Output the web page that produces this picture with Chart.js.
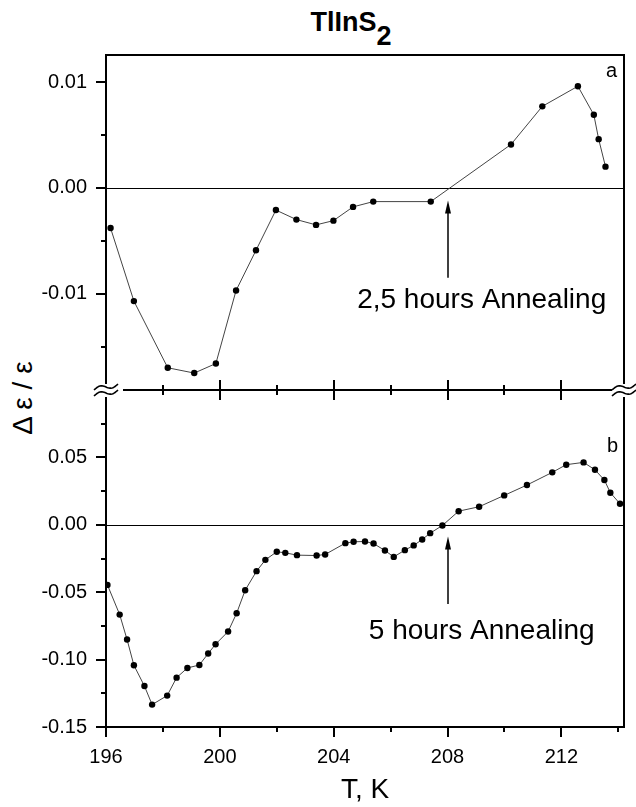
<!DOCTYPE html>
<html lang="en">
<head>
<meta charset="UTF-8">
<title>TlInS2 annealing</title>
<script src="https://cdn.jsdelivr.net/npm/chart.js@4.4.1/dist/chart.umd.min.js"></script>
<style>
  body { margin: 0; background: #fff; }
  #wrap { position: relative; width: 636px; height: 807px; font-family: 'Liberation Sans', Arial, sans-serif; color: #000; }
  canvas { position: absolute; left: 0; }
  #topChart { top: 0; }
  #botChart { top: 360px; }
  #title { position: absolute; left: 0; width: 702px; top: 9px; text-align: center; font-size: 27px; font-weight: bold; line-height: 27px; }
  #title span { position: relative; top: 14px; }
  #ylab { position: absolute; left: -77px; top: 384px; width: 200px; text-align: center; font-size: 28px; line-height: 28px; transform: rotate(-90deg); white-space: pre; }
</style>
</head>
<body>
<div id="wrap">
  <div id="title">TlInS<span>2</span></div>
  <div id="ylab">Δ ε / ε</div>
  <canvas id="topChart" width="636" height="420"></canvas>
  <canvas id="botChart" width="636" height="447"></canvas>
</div>
<script>
// temperature axis
const xTicks = [196, 198, 200, 202, 204, 206, 208, 210, 212, 214];
const xMajor = [196, 200, 204, 208, 212];

// panel a: 2,5 hours annealing
const topT = [196.16, 196.98, 198.17, 199.10, 199.86, 200.57, 201.27, 201.97, 202.69, 203.38,
              203.99, 204.68, 205.39, 207.41, 210.23, 211.33, 212.58, 213.14, 213.31, 213.55];
const topDe = [-0.0038, -0.0107, -0.0170, -0.0175, -0.0166, -0.0097, -0.0059, -0.0021, -0.0030, -0.0035,
               -0.0031, -0.0018, -0.0013, -0.0013, 0.0041, 0.0077, 0.0096, 0.0069, 0.0046, 0.0020];
const topYTicks = [-0.015, -0.01, -0.005, 0, 0.005, 0.01];
const topYMajor = [-0.01, 0, 0.01];

// panel b: 5 hours annealing
const botT = [196.05, 196.48, 196.74, 196.98, 197.35, 197.62, 198.15, 198.48, 198.86, 199.28,
              199.59, 199.85, 200.29, 200.59, 200.89, 201.29, 201.60, 202.00, 202.30, 202.71,
              203.40, 203.70, 204.41, 204.70, 205.10, 205.40, 205.80, 206.11, 206.50, 206.81,
              207.11, 207.39, 207.82, 208.39, 209.11, 209.99, 210.79, 211.68, 212.17, 212.78,
              213.18, 213.51, 213.72, 214.06];
const botDe = [-0.0446, -0.0666, -0.0851, -0.1042, -0.1196, -0.1334, -0.1267, -0.1134, -0.1062, -0.1040,
               -0.0955, -0.0886, -0.0792, -0.0656, -0.0485, -0.0344, -0.0260, -0.0200, -0.0208, -0.0225,
               -0.0228, -0.0220, -0.0136, -0.0126, -0.0124, -0.0139, -0.0191, -0.0238, -0.0188, -0.0153,
               -0.0109, -0.0062, -0.0005, 0.0101, 0.0134, 0.0218, 0.0295, 0.0389, 0.0446, 0.0463,
               0.0408, 0.0332, 0.0238, 0.0156];
const botYTicks = [-0.15, -0.125, -0.10, -0.075, -0.05, -0.025, 0, 0.025, 0.05, 0.075];
const botYMajor = [-0.15, -0.10, -0.05, 0, 0.05];

const FONT = "'Liberation Sans', Arial, sans-serif";
const isIn = (v, list) => list.some(m => Math.abs(m - v) < 1e-9);

function seg(ctx, x1, y1, x2, y2) {
  ctx.beginPath(); ctx.moveTo(x1, y1); ctx.lineTo(x2, y2); ctx.stroke();
}

// little "≈" that marks the broken axis
function breakMark(ctx, cx, cy) {
  ctx.save();
  ctx.lineWidth = 1.6;
  [-3, 3].forEach(off => {
    ctx.beginPath();
    for (let i = 0; i <= 24; i++) {
      const t = i / 24;
      const px = cx - 12 + 24 * t;
      const py = cy + off + 3 - 6 * t - 2.5 * Math.sin(2 * Math.PI * t);
      if (i === 0) ctx.moveTo(px, py); else ctx.lineTo(px, py);
    }
    ctx.stroke();
  });
  ctx.restore();
}

function arrowUp(ctx, x, yFrom, yTip) {
  ctx.lineWidth = 1.5;
  seg(ctx, x, yFrom, x, yTip + 10);
  ctx.beginPath();
  ctx.moveTo(x, yTip); ctx.lineTo(x - 3, yTip + 13); ctx.lineTo(x + 3, yTip + 13);
  ctx.closePath(); ctx.fill();
}

function panelPlugin(panel) {
  return {
    id: 'panel_' + panel,
    beforeDatasetsDraw(chart) {
      const {ctx, chartArea: a, scales: {y}} = chart;
      ctx.save();
      ctx.strokeStyle = '#000';
      ctx.lineWidth = 1;
      const y0 = Math.round(y.getPixelForValue(0)) + 0.5;
      seg(ctx, a.left, y0, a.right, y0);
      ctx.restore();
    },
    afterDraw(chart) {
      const {ctx, chartArea: a, scales: {x, y}} = chart;
      ctx.save();
      ctx.strokeStyle = '#000';
      ctx.fillStyle = '#000';
      ctx.lineWidth = 2;
      const yt = panel === 'a' ? topYTicks : botYTicks;
      const ym = panel === 'a' ? topYMajor : botYMajor;
      yt.forEach(v => {
        const py = Math.round(y.getPixelForValue(v));
        seg(ctx, a.left - (isIn(v, ym) ? 10 : 5), py, a.left, py);
      });
      if (panel === 'a') {
        seg(ctx, a.left - 1, a.top, a.right + 1, a.top);
        seg(ctx, a.left, a.top, a.left, a.bottom - 6);
        seg(ctx, a.right, a.top, a.right, a.bottom - 6);
        seg(ctx, a.left + 17, a.bottom, a.right - 12, a.bottom);
        xTicks.forEach(v => {
          const px = Math.round(x.getPixelForValue(v));
          if (px < a.left + 17 || px > a.right - 12) return;
          const len = isIn(v, xMajor) ? 10 : 5;
          seg(ctx, px, a.bottom - len, px, a.bottom + len);
        });
        breakMark(ctx, a.left, a.bottom);
        breakMark(ctx, a.right, a.bottom);
        arrowUp(ctx, Math.round(x.getPixelForValue(208)), y.getPixelForValue(-0.0085), y.getPixelForValue(-0.0012));
        ctx.font = '28px ' + FONT;
        ctx.textAlign = 'center';
        ctx.textBaseline = 'alphabetic';
        ctx.fillText('2,5 hours Annealing', x.getPixelForValue(209.2), y.getPixelForValue(-0.0114));
        ctx.font = '20px ' + FONT;
        ctx.textAlign = 'right';
        ctx.fillText('a', a.right - 7, a.top + 22);
      } else {
        seg(ctx, a.left, a.top + 7, a.left, a.bottom + 1);
        seg(ctx, a.right, a.top + 7, a.right, a.bottom + 1);
        seg(ctx, a.left - 1, a.bottom, a.right + 1, a.bottom);
        xTicks.forEach(v => {
          const px = Math.round(x.getPixelForValue(v));
          seg(ctx, px, a.bottom, px, a.bottom + (isIn(v, xMajor) ? 10 : 5));
        });
        arrowUp(ctx, Math.round(x.getPixelForValue(208)), y.getPixelForValue(-0.0587), y.getPixelForValue(-0.0087));
        ctx.font = '28px ' + FONT;
        ctx.textAlign = 'center';
        ctx.textBaseline = 'alphabetic';
        ctx.fillText('5 hours Annealing', x.getPixelForValue(209.2), y.getPixelForValue(-0.0847));
        ctx.font = '20px ' + FONT;
        ctx.textAlign = 'right';
        ctx.fillText('b', a.right - 6, a.top + 62);
      }
      ctx.restore();
    }
  };
}

// invisible tick marks keep the label gap without padding the plot area
const hiddenGrid = len => ({
  display: true, drawOnChartArea: false, drawTicks: true, tickLength: len,
  color: 'rgba(0,0,0,0)', tickColor: 'rgba(0,0,0,0)'
});

function makeChart(id, panel, T, De, yMin, yMax, yTicks, yMajor) {
  const bottom = panel === 'b';
  return new Chart(document.getElementById(id), {
    type: 'line',
    data: {
      datasets: [{
        data: T.map((t, i) => ({x: t, y: De[i]})),
        borderColor: '#444',
        borderWidth: 1,
        pointRadius: 3.2,
        pointBackgroundColor: '#000',
        pointBorderWidth: 0,
        tension: 0
      }]
    },
    options: {
      responsive: false,
      animation: false,
      layout: { padding: { top: bottom ? 30 : 55, right: 12, bottom: bottom ? 0 : 30, left: 0 } },
      plugins: { legend: { display: false }, tooltip: { enabled: false } },
      scales: {
        x: {
          type: 'linear',
          display: bottom,
          min: 196,
          max: 214.2,
          afterBuildTicks: s => { s.ticks = xTicks.map(v => ({value: v})); },
          afterFit: s => { if (bottom) s.height = 80; },
          grid: hiddenGrid(18),
          border: { display: false },
          ticks: {
            autoSkip: false, maxRotation: 0, padding: 0, color: '#000',
            font: { family: FONT, size: 20, lineHeight: 1.2 },
            callback: v => isIn(v, xMajor) ? String(v) : ''
          },
          title: { display: true, text: 'T, K', color: '#000', font: { family: FONT, size: 28 }, padding: { top: 0, bottom: 0 } }
        },
        y: {
          type: 'linear',
          min: yMin,
          max: yMax,
          afterBuildTicks: s => { s.ticks = yTicks.map(v => ({value: v})); },
          afterFit: s => { s.width = 106; },
          grid: hiddenGrid(19),
          border: { display: false },
          ticks: {
            autoSkip: false, padding: 0, color: '#000',
            font: { family: FONT, size: 20, lineHeight: 1.2 },
            callback: v => isIn(v, yMajor) ? v.toFixed(2) : ''
          }
        }
      }
    },
    plugins: [panelPlugin(panel)]
  });
}

makeChart('topChart', 'a', topT, topDe, -0.0191, 0.01255, topYTicks, topYMajor);
makeChart('botChart', 'b', botT, botDe, -0.15, 0.10, botYTicks, botYMajor);
</script>
</body>
</html>
